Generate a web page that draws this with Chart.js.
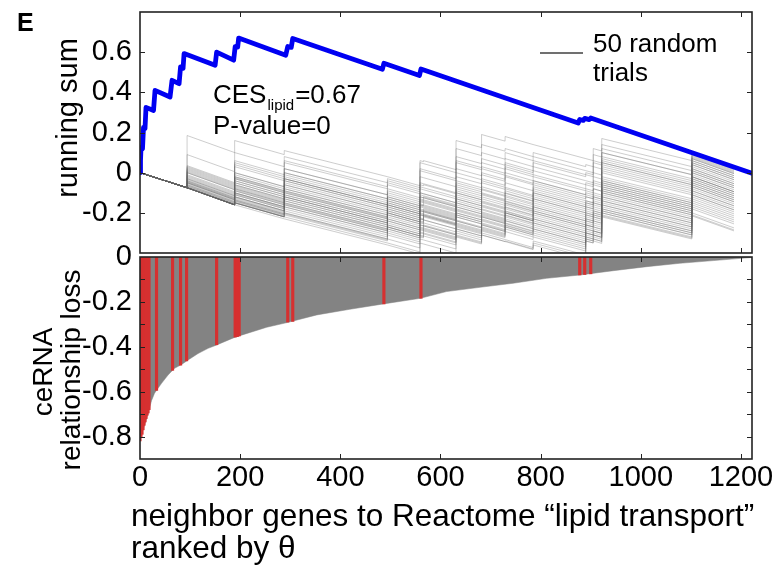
<!DOCTYPE html>
<html><head><meta charset="utf-8">
<script src="https://cdn.jsdelivr.net/npm/chart.js@4.4.1/dist/chart.umd.min.js"></script>
<style>
html,body{margin:0;padding:0;background:#fff;}
#wrap{position:relative;width:783px;height:566px;overflow:hidden;}
#wrap canvas{position:absolute;left:0;top:0;}
</style></head><body>
<div id="wrap"><canvas id="topChart" width="783" height="566"></canvas><canvas id="botChart" width="783" height="566"></canvas></div>
<script>
// ---------------- data ----------------
const rankMax = 1222;
const xTickLabels = ['0','200','400','600','800','1000','1200'];
const topYTickLabels = ['-0.2','0','0.2','0.4','0.6'];
const botYTickLabels = ['0','-0.2','-0.4','-0.6','-0.8'];

// running sum of the lipid-transport set (rank, value)
const blueRanks = [0,1,2,5,7,10,12,27,30,60,64,78,81,86,88,150,153,187,190,195,197,291,295,302,305,484,487,558,561,875,878,885,888,897,900,1222];
const blueSums  = [0,0.06,0.125,0.12,0.225,0.22,0.325,0.31,0.41,0.377,0.46,0.443,0.527,0.52,0.593,0.535,0.6,0.56,0.627,0.625,0.67,0.585,0.628,0.624,0.668,0.515,0.545,0.484,0.516,0.247,0.265,0.26,0.27,0.264,0.272,-0.003];

// 50 random trials: ranks where the trials jump, drop of each segment, and the value each trial starts each segment at
const trialBreaks = [0,94,189,288,494,559,566,631,682,729,785,890,905,922,1102,1186];
const trialDrops  = [0.075,0.085,0.07,0.13,0.045,0.005,0.045,0.035,0.033,0.04,0.07,0.01,0.012,0.11,0.075];
const trialStarts = [
 [0,.185,.16,.11,-.02,.06,.06,.16,.19,.18,.14,.07,.12,.17,.095],
 [0,.09,.05,.0,-.13,-.06,-.06,.05,.03,.10,.06,-.01,.03,.10,.08],
 [0,-.075,-.16,-.23,-.36,-.33,-.335,-.30,-.31,-.34,-.36,-.34,-.33,-.21,-.21],
 [0,-.075,-.10,-.12,-.22,-.20,-.205,-.15,-.12,-.153,-.10,-.17,-.15,-.05,-.02],
 [0,-.05,-.135,-.15,-.28,-.25,-.21,-.255,-.22,-.20,-.24,-.27,-.28,-.15,-.10],
 [0,.02,.03,.0,-.10,-.145,-.15,-.10,-.05,-.02,-.06,-.10,-.11,.0,.05],
 [0,-.06,-.05,-.12,-.18,-.10,-.105,-.15,-.185,-.12,-.08,-.15,-.08,.03,.04],
 [0,.03,-.02,.05,-.08,-.05,-.055,.02,.05,.02,.03,-.04,.0,.08,.06],
 [0,-.075,-.14,-.21,-.30,-.30,-.305,-.25,-.285,-.25,-.29,-.30,-.31,-.18,-.15],
 [0,-.04,-.08,-.05,-.18,-.225,-.18,-.20,-.16,-.193,-.18,-.22,-.20,-.10,-.05],
 [0,.0,.06,-.01,-.05,.02,.015,.08,.10,.07,.08,.01,.06,.12,.09],
 [0,-.075,-.15,-.17,-.25,-.295,-.30,-.28,-.26,-.293,-.30,-.33,-.30,-.20,-.18],
 [0,-.03,-.10,-.09,-.15,-.12,-.125,-.05,-.085,-.05,-.09,-.12,-.13,-.05,.0],
 [0,-.065,-.03,-.06,-.19,-.16,-.165,-.21,-.20,-.17,-.13,-.20,-.17,-.08,-.03],
 [0,.01,-.065,-.02,-.15,-.08,-.085,-.02,-.01,.05,.01,-.06,-.02,.06,.07],
 [0,-.075,-.12,-.19,-.27,-.23,-.235,-.22,-.255,-.26,-.22,-.25,-.26,-.14,-.08],
 [0,-.05,-.07,-.14,-.20,-.245,-.25,-.18,-.14,-.173,-.15,-.18,-.19,-.06,-.04],
 [0,.035,.10,.06,-.04,.05,.045,.12,.14,.12,.10,.04,.09,.14,.085],
 [0,-.075,-.09,-.10,-.23,-.275,-.22,-.265,-.24,-.22,-.26,-.28,-.25,-.12,-.06],
 [0,-.02,-.04,-.03,-.12,-.07,-.075,-.12,-.10,-.08,-.04,-.11,-.05,.04,.03],
 [0,-.07,-.145,-.16,-.29,-.31,-.315,-.31,-.30,-.333,-.34,-.32,-.33,-.22,-.215],
 [0,-.01,-.085,-.155,-.21,-.18,-.185,-.10,-.07,-.103,-.12,-.14,-.15,-.03,.01],
 [0,-.075,-.06,-.08,-.14,-.185,-.19,-.235,-.27,-.20,-.20,-.24,-.22,-.11,-.07],
 [0,-.045,-.12,-.11,-.24,-.21,-.215,-.17,-.205,-.238,-.21,-.26,-.23,-.09,-.11],
 [0,.0,.0,.02,-.06,-.02,-.025,.0,.02,-.013,-.02,-.08,-.04,.05,.05],
 [0,-.075,-.13,-.20,-.33,-.32,-.28,-.29,-.29,-.28,-.32,-.31,-.29,-.17,-.12],
 [0,-.055,-.11,-.13,-.20,-.14,-.145,-.19,-.17,-.14,-.16,-.20,-.21,-.07,-.01],
 [0,-.035,.0,-.07,-.16,-.10,-.105,-.08,-.03,.0,-.04,-.09,-.10,.01,.02],
 [0,-.075,-.15,-.22,-.35,-.35,-.355,-.315,-.31,-.343,-.35,-.34,-.34,-.215,-.20],
 [0,-.025,-.06,-.13,-.26,-.24,-.19,-.13,-.165,-.15,-.19,-.23,-.24,-.13,-.09],
 [0,-.075,-.04,.02,-.11,-.155,-.16,-.06,-.04,-.073,-.05,-.12,-.08,.02,.06],
 [0,-.06,-.135,-.205,-.27,-.315,-.26,-.24,-.23,-.263,-.27,-.29,-.27,-.16,-.14],
 [0,.015,-.01,-.04,-.13,-.11,-.115,-.04,.0,.03,-.01,-.05,-.06,.07,.075],
 [0,-.075,-.15,-.18,-.31,-.27,-.275,-.32,-.28,-.23,-.25,-.32,-.31,-.19,-.16],
 [0,-.04,-.025,-.095,-.17,-.13,-.135,-.14,-.13,-.10,-.11,-.16,-.12,-.02,.02],
 [0,-.075,-.11,-.16,-.26,-.26,-.265,-.22,-.21,-.21,-.25,-.26,-.27,-.14,-.05],
 [0,-.065,-.08,-.04,-.17,-.19,-.195,-.16,-.195,-.18,-.17,-.21,-.16,-.04,.0],
 [0,-.015,-.09,-.11,-.14,-.16,-.12,-.09,-.08,-.113,-.07,-.14,-.12,.05,.04],
 [0,-.075,-.10,-.17,-.23,-.23,-.235,-.28,-.25,-.24,-.28,-.30,-.29,-.18,-.13],
 [0,.025,.04,.08,-.03,.01,.005,.06,.07,.04,.05,.0,.05,.10,.07],
 [0,-.075,-.15,-.14,-.27,-.28,-.285,-.27,-.22,-.253,-.23,-.28,-.29,-.16,-.09],
 [0,-.05,-.125,-.12,-.20,-.17,-.175,-.11,-.145,-.16,-.14,-.19,-.20,-.09,-.03],
 [0,-.07,-.02,-.03,-.09,-.135,-.14,-.185,-.18,-.213,-.20,-.23,-.24,-.12,-.07],
 [0,-.075,-.075,-.06,-.19,-.21,-.215,-.20,-.235,-.19,-.23,-.24,-.22,-.10,-.04],
 [0,.005,-.05,-.10,-.12,-.165,-.17,-.13,-.11,-.143,-.13,-.17,-.18,-.06,-.02],
 [0,-.075,-.14,-.15,-.24,-.285,-.29,-.24,-.275,-.27,-.31,-.33,-.32,-.20,-.17],
 [0,-.03,-.105,-.08,-.21,-.19,-.195,-.17,-.15,-.13,-.17,-.21,-.19,-.07,-.02],
 [0,-.075,-.12,-.09,-.16,-.205,-.21,-.21,-.215,-.20,-.19,-.26,-.21,-.08,-.06],
 [0,-.045,-.03,-.03,-.16,-.12,-.125,-.07,-.105,-.09,-.10,-.15,-.14,-.04,.01],
 [0,-.075,-.15,-.20,-.28,-.26,-.265,-.26,-.26,-.27,-.28,-.30,-.31,-.19,-.11]
];

// ceRNA relationship loss of all neighbour genes (rank, value) — outline of the grey bars
const lossRanks  = [0,1,3,9,16,23,29,43,56,69,83,96,116,136,152,190,253,294,353,419,486,560,612,679,745,812,879,945,1012,1078,1145,1200,1222];
const lossValues = [-0.82,-0.81,-0.79,-0.75,-0.70,-0.64,-0.607,-0.563,-0.526,-0.496,-0.479,-0.459,-0.43,-0.407,-0.393,-0.357,-0.313,-0.292,-0.258,-0.233,-0.209,-0.184,-0.154,-0.135,-0.117,-0.095,-0.08,-0.061,-0.043,-0.028,-0.016,-0.006,-0.002];

// lipid-transport genes (red bars)
const hitRanks = [0,2,4,6,8,10,12,14,16,18,33,65,81,93,153,190,194,198,295,305,487,561,878,888,900];
const hitLoss  = [-0.82,-0.80,-0.79,-0.77,-0.75,-0.735,-0.72,-0.705,-0.695,-0.68,-0.595,-0.505,-0.482,-0.463,-0.391,-0.357,-0.355,-0.352,-0.29,-0.287,-0.209,-0.184,-0.08,-0.078,-0.075];

const panelLabel = 'E';
const cesText = ['CES', 'lipid', '=0.67'];
const pText = 'P-value=0';
const legendText = ['50 random', 'trials'];
const topYTitle = 'running sum';
const botYTitle = ['ceRNA', 'relationship loss'];
const xTitle = ['neighbor genes to Reactome \u201Clipid transport\u201D', 'ranked by \u03B8'];

// ---------------- drawing ----------------
const FAM = "'Liberation Sans', Arial, Helvetica, sans-serif";
Chart.defaults.font.family = FAM;
Chart.defaults.color = '#000';

const fmt1 = v => { const r = Math.round(v * 10) / 10; return Object.is(r, -0) ? '0' : String(r); };
const xTickValues = xTickLabels.map(Number);
const setXTicks = s => { s.ticks = xTickValues.map(v => ({value: v})); };

const framePlugin = {
  id: 'frame',
  afterDatasetsDraw(chart) {
    const {ctx, chartArea: a, scales} = chart;
    const xs = scales.x, ys = scales.y, L = 5;
    ctx.save();
    ctx.strokeStyle = '#222';
    ctx.lineWidth = 1;
    ctx.beginPath();
    xs.ticks.forEach(t => {
      const p = Math.round(xs.getPixelForValue(t.value)) + 0.5;
      if (p < a.left + 3 || p > a.right - 3) return;
      ctx.moveTo(p, a.top); ctx.lineTo(p, a.top + L);
      ctx.moveTo(p, a.bottom); ctx.lineTo(p, a.bottom - L);
    });
    ys.ticks.forEach(t => {
      const p = Math.round(ys.getPixelForValue(t.value)) + 0.5;
      if (p < a.top + 3 || p > a.bottom - 3) return;
      ctx.moveTo(a.left, p); ctx.lineTo(a.left + L, p);
      ctx.moveTo(a.right, p); ctx.lineTo(a.right - L, p);
    });
    ctx.stroke();
    ctx.lineWidth = 1.6;
    ctx.strokeRect(a.left, a.top, a.right - a.left, a.bottom - a.top);
    ctx.restore();
  }
};

function rotText(ctx, text, x, y, size) {
  ctx.save();
  ctx.fillStyle = '#000';
  ctx.font = size + 'px ' + FAM;
  ctx.translate(x, y);
  ctx.rotate(-Math.PI / 2);
  ctx.textAlign = 'center';
  ctx.textBaseline = 'alphabetic';
  ctx.fillText(text, 0, 0);
  ctx.restore();
}

const topText = {
  id: 'topText',
  afterDraw(chart) {
    const ctx = chart.ctx, a = chart.chartArea;
    ctx.save();
    ctx.fillStyle = '#000';
    ctx.textBaseline = 'alphabetic';
    ctx.textAlign = 'left';
    ctx.font = 'bold 25px ' + FAM;
    ctx.fillText(panelLabel, 17, 31);
    ctx.font = '26px ' + FAM;
    let x = a.left + 73;
    ctx.fillText(cesText[0], x, 103);
    x += ctx.measureText(cesText[0]).width + 1;
    ctx.font = '15px ' + FAM;
    ctx.fillText(cesText[1], x, 110);
    x += ctx.measureText(cesText[1]).width + 1;
    ctx.font = '26px ' + FAM;
    ctx.fillText(cesText[2], x, 103);
    ctx.fillText(pText, a.left + 73, 134);
    // legend
    ctx.strokeStyle = '#707070';
    ctx.lineWidth = 1.8;
    ctx.beginPath(); ctx.moveTo(540, 53); ctx.lineTo(583, 53); ctx.stroke();
    ctx.fillText(legendText[0], 593, 52);
    ctx.fillText(legendText[1], 593, 81);
    ctx.restore();
    rotText(ctx, topYTitle, 77, 118, 29);
  }
};

const botText = {
  id: 'botText',
  afterDraw(chart) {
    const ctx = chart.ctx, a = chart.chartArea;
    rotText(ctx, botYTitle[0], 52, 372, 28);
    rotText(ctx, botYTitle[1], 80, 370, 28);
    ctx.save();
    ctx.fillStyle = '#000';
    ctx.font = '31.5px ' + FAM;
    ctx.textAlign = 'left';
    ctx.textBaseline = 'alphabetic';
    ctx.fillText(xTitle[0], a.left - 9, 526);
    ctx.fillText(xTitle[1], a.left - 9, 558);
    ctx.restore();
  }
};

// datasets for the top panel
const blueData = blueRanks.map((r, i) => ({x: r, y: blueSums[i]}));
const trialSets = trialStarts.map(s => {
  const pts = [];
  for (let j = 0; j < trialDrops.length; j++) {
    pts.push({x: trialBreaks[j], y: s[j]});
    pts.push({x: trialBreaks[j + 1], y: s[j] - trialDrops[j]});
  }
  return {data: pts, borderColor: 'rgba(100,100,100,0.36)', borderWidth: 0.9, pointRadius: 0, tension: 0, fill: false, order: 1};
});

new Chart(document.getElementById('topChart'), {
  type: 'line',
  data: {datasets: [
    {data: blueData, borderColor: '#0000f2', borderWidth: 4.8, pointRadius: 0, tension: 0, fill: false, borderJoinStyle: 'round', borderCapStyle: 'round', order: 0},
    ...trialSets
  ]},
  options: {
    responsive: false, animation: false, devicePixelRatio: 1,
    layout: {padding: {left: 0, right: 31, top: 12, bottom: 313}},
    plugins: {legend: {display: false}, tooltip: {enabled: false}},
    scales: {
      x: {type: 'linear', min: 0, max: rankMax,
          ticks: {display: false},
          afterBuildTicks: setXTicks,
          grid: {display: false, drawTicks: false}, border: {display: false},
          afterFit(s) { s.height = 0; s.paddingLeft = 0; s.paddingRight = 0; }},
      y: {min: -0.4, max: 0.8,
          ticks: {stepSize: 0.2, autoSkip: false, padding: 8, color: '#000', font: {size: 29},
                  callback: v => { const s = fmt1(v); return topYTickLabels.includes(s) ? s : ''; }},
          grid: {display: false, drawTicks: false}, border: {display: false},
          afterFit(s) { s.width = 140; s.paddingTop = 0; s.paddingBottom = 0; }}
    }
  },
  plugins: [framePlugin, topText]
});

// bottom panel
const lossData = lossRanks.map((r, i) => ({x: r, y: lossValues[i]}));
const hitData = hitRanks.map((r, i) => ({x: r, y: hitLoss[i]}));

new Chart(document.getElementById('botChart'), {
  type: 'bar',
  data: {datasets: [
    {type: 'bar', data: hitData, backgroundColor: 'rgb(214,48,48)', borderWidth: 0, barThickness: 2.5, grouped: false, order: 0},
    {type: 'line', data: lossData, fill: 'origin', backgroundColor: '#838383', borderColor: '#838383', borderWidth: 0.5, pointRadius: 0, tension: 0, order: 1}
  ]},
  options: {
    responsive: false, animation: false, devicePixelRatio: 1,
    layout: {padding: {left: 0, right: 31, top: 257, bottom: 0}},
    plugins: {legend: {display: false}, tooltip: {enabled: false}},
    scales: {
      x: {type: 'linear', offset: false, min: 0, max: rankMax,
          grid: {display: false, drawTicks: false, offset: false}, border: {display: false},
          afterBuildTicks: setXTicks,
          ticks: {autoSkip: false, maxRotation: 0, minRotation: 0, padding: 2, color: '#000', font: {size: 29},
                  callback: v => String(Math.round(v))},
          afterFit(s) { s.height = 107; s.paddingLeft = 0; s.paddingRight = 0; }},
      y: {min: -0.9, max: 0,
          ticks: {stepSize: 0.1, autoSkip: false, padding: 8, color: '#000', font: {size: 29},
                  callback: v => { const s = fmt1(v); return botYTickLabels.includes(s) ? s : ''; }},
          grid: {display: false, drawTicks: false}, border: {display: false},
          afterFit(s) { s.width = 140; s.paddingTop = 0; s.paddingBottom = 0; }}
    }
  },
  plugins: [framePlugin, botText]
});
</script>
</body></html>
